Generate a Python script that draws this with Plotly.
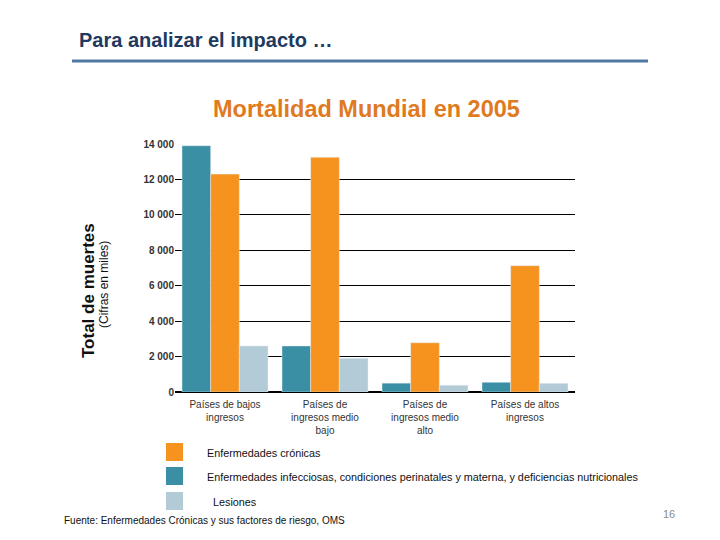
import plotly.graph_objects as go

categories = ["Países de bajos<br>ingresos",
              "Países de<br>ingresos medio<br>bajo",
              "Países de<br>ingresos medio<br>alto",
              "Países de altos<br>ingresos"]
infecciosas = [13900, 2600, 500, 550]
cronicas = [12300, 13250, 2780, 7130]
lesiones = [2600, 1900, 380, 490]
y_ticks = [0, 2000, 4000, 6000, 8000, 10000, 12000, 14000]
y_tick_labels = ["0", "2 000", "4 000", "6 000", "8 000", "10 000", "12 000", "14 000"]

legend_names = ["Enfermedades crónicas",
                "Enfermedades infecciosas, condiciones perinatales y materna, y deficiencias nutricionales",
                "Lesiones"]

C_TEAL = "#3A8FA5"
C_ORANGE = "#F6931E"
C_LIGHT = "#B3CBD6"

fig = go.Figure()
fig.add_trace(go.Bar(x=categories, y=infecciosas, marker_color=C_TEAL, name=legend_names[1]))
fig.add_trace(go.Bar(x=categories, y=cronicas, marker_color=C_ORANGE, name=legend_names[0]))
fig.add_trace(go.Bar(x=categories, y=lesiones, marker_color=C_LIGHT, name=legend_names[2]))

OFF = 8  # page body margin
W, H = 720, 540
# target plot area in screen pixels
PX0, PX1, PY0, PY1 = 175, 575, 144, 392
L, R, T, B = PX0 - OFF, W - (PX1 - OFF), PY0 - OFF, H - (PY1 - OFF)

fig.update_layout(
    width=W, height=H, autosize=False,
    margin=dict(l=L, r=R, t=T, b=B),
    paper_bgcolor="white", plot_bgcolor="white",
    barmode="group", bargap=0.14, bargroupgap=0,
    showlegend=False,
    font=dict(family="Arial, Liberation Sans, sans-serif", color="#333333"),
)
fig.update_xaxes(
    showgrid=False, showline=False, ticks="",
    tickfont=dict(size=10, color="#333333"),
    ticklabelstandoff=5,
    range=[-0.5, 3.5],
)
fig.update_yaxes(
    range=[0, 14000], tickvals=y_ticks, ticktext=y_tick_labels,
    showgrid=True, gridcolor="#000000", gridwidth=1,
    zeroline=True, zerolinecolor="#000000", zerolinewidth=1.5,
    showline=False, ticks="",
    tickfont=dict(size=10, color="#333333", family="Liberation Sans Narrow, Arial Narrow, Arial",
                  weight="bold"),
)

def px_x(x):
    return (x - PX0) / (PX1 - PX0)

def px_y(y):
    return (PY1 - y) / (PY1 - PY0)

anns = [
    dict(text="<b>Para analizar el impacto …</b>", x=px_x(77), y=px_y(40), xanchor="left", yanchor="middle",
         font=dict(size=20, color="#1F3A5F")),
    dict(text="<b>Mortalidad Mundial en 2005</b>", x=px_x(366), y=px_y(109), xanchor="center", yanchor="middle",
         font=dict(size=23.5, color="#E07A1F")),
    dict(text="<b>Total de muertes</b>", x=px_x(88), y=px_y(291), textangle=-90,
         xanchor="center", yanchor="middle", font=dict(size=17, color="#111111")),
    dict(text="(Cifras en miles)", x=px_x(104), y=px_y(285), textangle=-90,
         xanchor="center", yanchor="middle", font=dict(size=12, color="#111111")),
    dict(text="Fuente: Enfermedades Crónicas y sus factores de riesgo, OMS", x=px_x(62), y=px_y(520),
         xanchor="left", yanchor="middle", font=dict(size=10, color="#111111")),
    dict(text="16", x=px_x(677), y=px_y(514), xanchor="right", yanchor="middle",
         font=dict(size=11, color="#8A8A8A")),
]
legend_rows = [(legend_names[0], C_ORANGE, 452, 205), (legend_names[1], C_TEAL, 476, 205),
               (legend_names[2], C_LIGHT, 501, 211)]
shapes = [dict(type="line", xref="paper", yref="paper", x0=px_x(72), x1=px_x(648),
               y0=px_y(61), y1=px_y(61), line=dict(color="#5078A3", width=3))]
for name, col, yc, tx in legend_rows:
    shapes.append(dict(type="rect", xref="paper", yref="paper", x0=px_x(166), x1=px_x(183),
                       y0=px_y(yc - 9), y1=px_y(yc + 9), fillcolor=col, line=dict(width=0)))
    anns.append(dict(text=name, x=px_x(tx), y=px_y(yc + 1), xanchor="left", yanchor="middle",
                     font=dict(size=10.8, color="#111111")))
for a in anns:
    a.update(xref="paper", yref="paper", showarrow=False)
fig.update_layout(annotations=anns, shapes=shapes)

fig.write_html("out.html")
